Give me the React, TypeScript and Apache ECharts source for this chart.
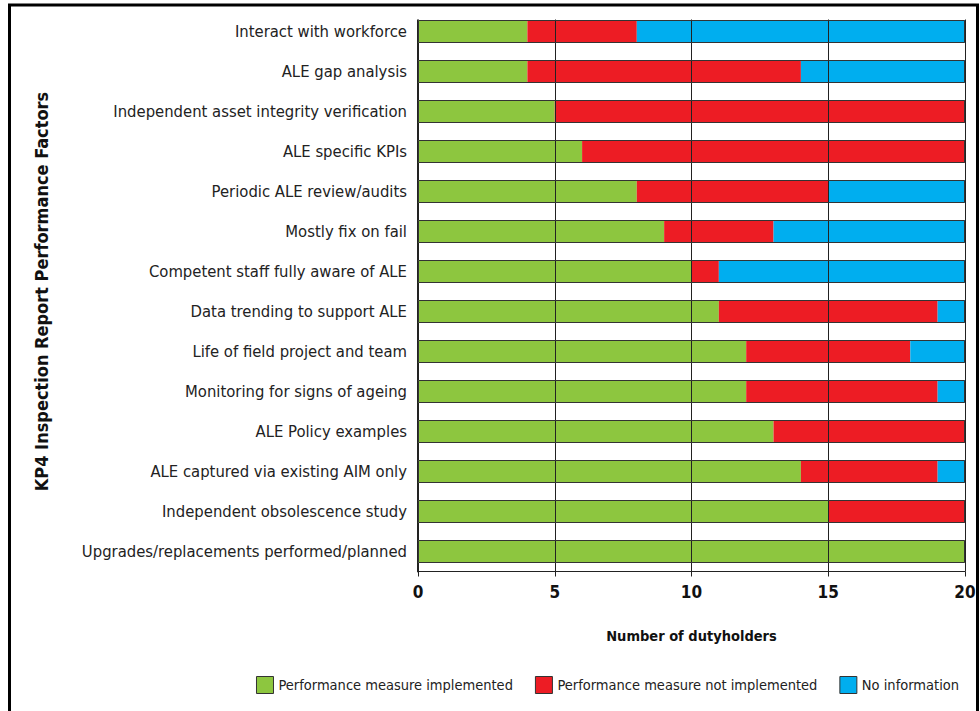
import React, { useEffect, useRef } from "react";
import * as echarts from "echarts";

const categories = [
  "Interact with workforce",
  "ALE gap analysis",
  "Independent asset integrity verification",
  "ALE specific KPIs",
  "Periodic ALE review/audits",
  "Mostly fix on fail",
  "Competent staff fully aware of ALE",
  "Data trending to support ALE",
  "Life of field project and team",
  "Monitoring for signs of ageing",
  "ALE Policy examples",
  "ALE captured via existing AIM only",
  "Independent obsolescence study",
  "Upgrades/replacements performed/planned",
];
const implemented = [4, 4, 5, 6, 8, 9, 10, 11, 12, 12, 13, 14, 15, 20];
const notImplemented = [4, 10, 15, 14, 7, 4, 1, 8, 6, 7, 7, 5, 5, 0];
const noInformation = [12, 6, 0, 0, 5, 7, 9, 1, 2, 1, 0, 1, 0, 0];
const gridValues = [5, 10, 15, 20];

const seriesNames = [
  "Performance measure implemented",
  "Performance measure not implemented",
  "No information",
];
const colors = ["#8DC63F", "#ED1C24", "#00AEEF"];

const FONT = '"Liberation Sans Narrow", "Arial Narrow", "DejaVu Sans Condensed", "Roboto Condensed", sans-serif';

export default function App() {
  const ref = useRef<HTMLDivElement>(null);
  useEffect(() => {
    if (!ref.current) return;
    const chart = echarts.init(ref.current, null, { renderer: "svg" });
    const totals = categories.map((_, i) => implemented[i] + notImplemented[i] + noInformation[i]);
    const stackSeries = [implemented, notImplemented, noInformation].map((d, i) => ({
      name: seriesNames[i],
      type: "bar",
      stack: "total",
      barWidth: 23,
      data: d,
      itemStyle: { color: colors[i] },
      silent: true,
    }));
    chart.setOption({
      animation: false,
      textStyle: { fontFamily: FONT },
      grid: { left: 418, right: 15, top: 11.5, height: 560, containLabel: false },
      legend: {
        data: seriesNames,
        right: 16,
        top: 671,
        icon: "rect",
        itemWidth: 17,
        itemHeight: 17,
        itemGap: 22,
        textStyle: { fontSize: 14.5, color: "#222", fontFamily: FONT },
        itemStyle: { borderColor: "#333", borderWidth: 1 },
      },
      xAxis: {
        type: "value",
        min: 0,
        max: 20,
        interval: 5,
        name: "Number of dutyholders",
        nameLocation: "middle",
        nameGap: 57,
        nameTextStyle: { fontSize: 14.5, fontWeight: "bold", color: "#111", fontFamily: FONT },
        axisLine: { show: true, lineStyle: { color: "#222", width: 1 } },
        axisTick: { show: true, length: 5, lineStyle: { color: "#222" } },
        axisLabel: { fontSize: 17, fontWeight: "bold", color: "#111", margin: 12, fontFamily: FONT },
        splitLine: { show: false },
      },
      yAxis: {
        type: "category",
        inverse: true,
        data: categories,
        name: "KP4 Inspection Report Performance Factors",
        nameLocation: "middle",
        nameGap: 368,
        nameRotate: 90,
        nameTextStyle: { fontSize: 18, fontWeight: "bold", color: "#111", fontFamily: FONT },
        axisLine: { show: true, lineStyle: { color: "#222", width: 2 } },
        axisTick: { show: false },
        axisLabel: { fontSize: 16.5, color: "#222", margin: 11, fontFamily: FONT },
        splitLine: { show: false },
      },
      series: [
        ...stackSeries,
        {
          name: "frame",
          type: "bar",
          barWidth: 23,
          barGap: "-100%",
          data: totals,
          silent: true,
          z: 5,
          itemStyle: { color: "rgba(0,0,0,0)", borderColor: "#333", borderWidth: 1 },
          markLine: {
            silent: true,
            symbol: "none",
            label: { show: false },
            lineStyle: { color: "#222", width: 1, type: "solid" },
            data: gridValues.map((v) => ({ xAxis: v })),
          },
        },
      ],
      graphic: [
        {
          type: "rect",
          z: 100,
          shape: { x: 412, y: 7.5, width: 560, height: 12 },
          style: { fill: "#fff" },
          silent: true,
        },
        {
          type: "rect",
          z: 101,
          shape: { x: 9.5, y: 5, width: 968, height: 730 },
          style: { fill: "none", stroke: "#000", lineWidth: 3 },
          silent: true,
        },
      ],
    });
    return () => chart.dispose();
  }, []);
  return (
    <div
      ref={ref}
      style={{ position: "absolute", left: 0, top: 0, width: 980, height: 711, background: "#fff" }}
    />
  );
}
